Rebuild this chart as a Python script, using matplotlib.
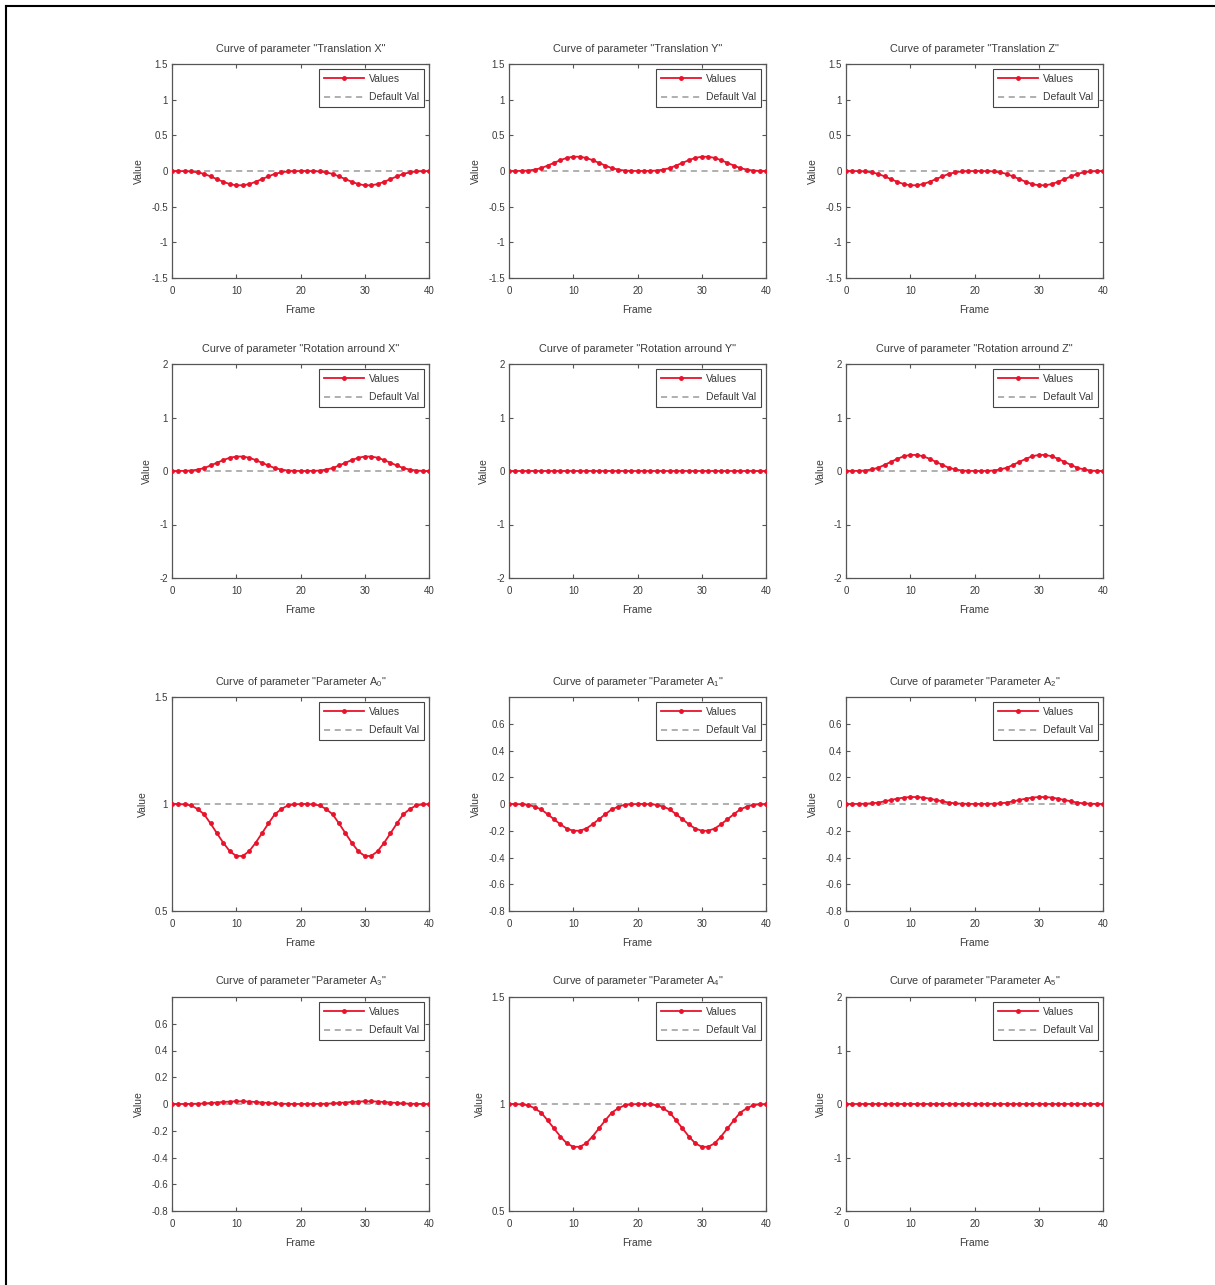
import matplotlib
matplotlib.use("Agg")
import matplotlib.pyplot as plt
from matplotlib.lines import Line2D

plt.rcParams['font.family'] = ['Liberation Sans', 'DejaVu Sans']
plt.rcParams['mathtext.fontset'] = 'custom'
plt.rcParams['mathtext.rm'] = 'Liberation Sans'
plt.rcParams['mathtext.it'] = 'Liberation Sans'

frames = list(range(41))

titles = [
    'Curve of parameter "Translation X"',
    'Curve of parameter "Translation Y"',
    'Curve of parameter "Translation Z"',
    'Curve of parameter "Rotation arround X"',
    'Curve of parameter "Rotation arround Y"',
    'Curve of parameter "Rotation arround Z"',
    'Curve of parameter "Parameter A$_0$"',
    'Curve of parameter "Parameter A$_1$"',
    'Curve of parameter "Parameter A$_2$"',
    'Curve of parameter "Parameter A$_3$"',
    'Curve of parameter "Parameter A$_4$"',
    'Curve of parameter "Parameter A$_5$"',
]

translation_x = [0, 0, -0.002, -0.006, -0.02, -0.04, -0.076, -0.114, -0.152, -0.184, -0.2,
                 -0.2, -0.184, -0.152, -0.114, -0.076, -0.04, -0.02, -0.006, -0.002, 0,
                 0, -0.002, -0.006, -0.02, -0.04, -0.076, -0.114, -0.152, -0.184, -0.2,
                 -0.2, -0.184, -0.152, -0.114, -0.076, -0.04, -0.02, -0.006, -0.002, 0]
translation_y = [0, 0, 0.002, 0.006, 0.02, 0.04, 0.076, 0.114, 0.152, 0.184, 0.2,
                 0.2, 0.184, 0.152, 0.114, 0.076, 0.04, 0.02, 0.006, 0.002, 0,
                 0, 0.002, 0.006, 0.02, 0.04, 0.076, 0.114, 0.152, 0.184, 0.2,
                 0.2, 0.184, 0.152, 0.114, 0.076, 0.04, 0.02, 0.006, 0.002, 0]
translation_z = [0, 0, -0.002, -0.006, -0.02, -0.04, -0.076, -0.114, -0.152, -0.184, -0.2,
                 -0.2, -0.184, -0.152, -0.114, -0.076, -0.04, -0.02, -0.006, -0.002, 0,
                 0, -0.002, -0.006, -0.02, -0.04, -0.076, -0.114, -0.152, -0.184, -0.2,
                 -0.2, -0.184, -0.152, -0.114, -0.076, -0.04, -0.02, -0.006, -0.002, 0]
rotation_x = [0, 0, 0.003, 0.008, 0.027, 0.054, 0.103, 0.154, 0.205, 0.248, 0.27,
              0.27, 0.248, 0.205, 0.154, 0.103, 0.054, 0.027, 0.008, 0.003, 0,
              0, 0.003, 0.008, 0.027, 0.054, 0.103, 0.154, 0.205, 0.248, 0.27,
              0.27, 0.248, 0.205, 0.154, 0.103, 0.054, 0.027, 0.008, 0.003, 0]
rotation_y = [0] * 41
rotation_z = [0, 0, 0.003, 0.009, 0.03, 0.06, 0.114, 0.171, 0.228, 0.276, 0.3,
              0.3, 0.276, 0.228, 0.171, 0.114, 0.06, 0.03, 0.009, 0.003, 0,
              0, 0.003, 0.009, 0.03, 0.06, 0.114, 0.171, 0.228, 0.276, 0.3,
              0.3, 0.276, 0.228, 0.171, 0.114, 0.06, 0.03, 0.009, 0.003, 0]
param_a0 = [1, 1, 0.998, 0.993, 0.976, 0.952, 0.909, 0.863, 0.818, 0.779, 0.757,
            0.757, 0.779, 0.818, 0.863, 0.909, 0.952, 0.976, 0.993, 0.998, 1,
            1, 0.998, 0.993, 0.976, 0.952, 0.909, 0.863, 0.818, 0.779, 0.757,
            0.757, 0.779, 0.818, 0.863, 0.909, 0.952, 0.976, 0.993, 0.998, 1]
param_a1 = [0, 0, -0.002, -0.006, -0.02, -0.04, -0.076, -0.114, -0.152, -0.184, -0.2,
            -0.2, -0.184, -0.152, -0.114, -0.076, -0.04, -0.02, -0.006, -0.002, 0,
            0, -0.002, -0.006, -0.02, -0.04, -0.076, -0.114, -0.152, -0.184, -0.2,
            -0.2, -0.184, -0.152, -0.114, -0.076, -0.04, -0.02, -0.006, -0.002, 0]
param_a2 = [0, 0, 0.001, 0.002, 0.005, 0.01, 0.02, 0.03, 0.04, 0.048, 0.052,
            0.052, 0.048, 0.04, 0.03, 0.02, 0.01, 0.005, 0.002, 0.001, 0,
            0, 0.001, 0.002, 0.005, 0.01, 0.02, 0.03, 0.04, 0.048, 0.052,
            0.052, 0.048, 0.04, 0.03, 0.02, 0.01, 0.005, 0.002, 0.001, 0]
param_a3 = [0, 0, 0, 0.001, 0.002, 0.004, 0.008, 0.011, 0.015, 0.018, 0.02,
            0.02, 0.018, 0.015, 0.011, 0.008, 0.004, 0.002, 0.001, 0, 0,
            0, 0, 0.001, 0.002, 0.004, 0.008, 0.011, 0.015, 0.018, 0.02,
            0.02, 0.018, 0.015, 0.011, 0.008, 0.004, 0.002, 0.001, 0, 0]
param_a4 = [1, 1, 0.998, 0.994, 0.98, 0.96, 0.924, 0.886, 0.848, 0.816, 0.8,
            0.8, 0.816, 0.848, 0.886, 0.924, 0.96, 0.98, 0.994, 0.998, 1,
            1, 0.998, 0.994, 0.98, 0.96, 0.924, 0.886, 0.848, 0.816, 0.8,
            0.8, 0.816, 0.848, 0.886, 0.924, 0.96, 0.98, 0.994, 0.998, 1]
param_a5 = [0] * 41

series = [translation_x, translation_y, translation_z,
          rotation_x, rotation_y, rotation_z,
          param_a0, param_a1, param_a2,
          param_a3, param_a4, param_a5]
defaults = [0, 0, 0, 0, 0, 0, 1, 0, 0, 0, 1, 0]

yt_trans = [-1.5, -1, -0.5, 0, 0.5, 1, 1.5]
yt_rot = [-2, -1, 0, 1, 2]
yt_scale = [0.5, 1, 1.5]
yt_small = [-0.8, -0.6, -0.4, -0.2, 0, 0.2, 0.4, 0.6]
ylims = [(-1.5, 1.5)] * 3 + [(-2, 2)] * 3 + [(0.5, 1.5), (-0.8, 0.8), (-0.8, 0.8),
                                             (-0.8, 0.8), (0.5, 1.5), (-2, 2)]
yticks = [yt_trans] * 3 + [yt_rot] * 3 + [yt_scale, yt_small, yt_small,
                                          yt_small, yt_scale, yt_rot]
xticks = [0, 10, 20, 30, 40]


def fmt(v):
    return '%g' % v


W, H = 1215, 1285
fig = plt.figure(figsize=(W / 100, H / 100), dpi=100)
fig.patch.set_facecolor('white')

col_left = [172, 509, 846]
row_top = [64, 364, 697, 997]
aw, ah = 257, 214
txt = '#3a3a3a'

for i in range(12):
    r, c = divmod(i, 3)
    ax = fig.add_axes([col_left[c] / W, 1 - (row_top[r] + ah) / H, aw / W, ah / H])
    ax.plot(frames, [defaults[i]] * len(frames), linestyle=(0, (4, 3)), color='#9a9a9a',
            lw=1.1, zorder=2, label='Default Val')
    ax.plot(frames, series[i], color='#e8132b', marker='.', ms=5, lw=1.3, zorder=3,
            label='Values')
    ax.set_xlim(0, 40)
    ax.set_ylim(*ylims[i])
    ax.set_xticks(xticks)
    ax.set_xticklabels([fmt(v) for v in xticks])
    ax.set_yticks(yticks[i])
    ax.set_yticklabels([fmt(v) for v in yticks[i]])
    ax.tick_params(direction='in', length=3, width=0.8, colors='#555555',
                   labelcolor=txt, labelsize=7, top=True, right=True, pad=3)
    ax.tick_params(axis='x', pad=6)
    for sp in ax.spines.values():
        sp.set_color('#555555')
        sp.set_linewidth(0.9)
    ax.set_title(titles[i], fontsize=7.8, color=txt, pad=9)
    ax.set_xlabel('Frame', fontsize=7.5, color=txt, labelpad=6)
    ax.set_ylabel('Value', fontsize=7.5, color=txt, labelpad=5)
    h, l = ax.get_legend_handles_labels()
    leg = ax.legend([h[1], h[0]], [l[1], l[0]], loc='upper right', fontsize=7.5,
                    fancybox=False, edgecolor='#444444', framealpha=1,
                    handlelength=3.8, borderpad=0.5, labelspacing=0.8,
                    borderaxespad=0.45, handletextpad=0.5)
    leg.get_frame().set_linewidth(0.8)
    for t in leg.get_texts():
        t.set_color(txt)

# outer frame (left and top edges)
fig.add_artist(Line2D([6 / W, 6 / W], [0, 1 - 6 / H], transform=fig.transFigure,
                      color='black', lw=1.5))
fig.add_artist(Line2D([6 / W, 1], [1 - 6 / H, 1 - 6 / H], transform=fig.transFigure,
                      color='black', lw=1.5))

fig.savefig('out.png', dpi=100, facecolor='white')
